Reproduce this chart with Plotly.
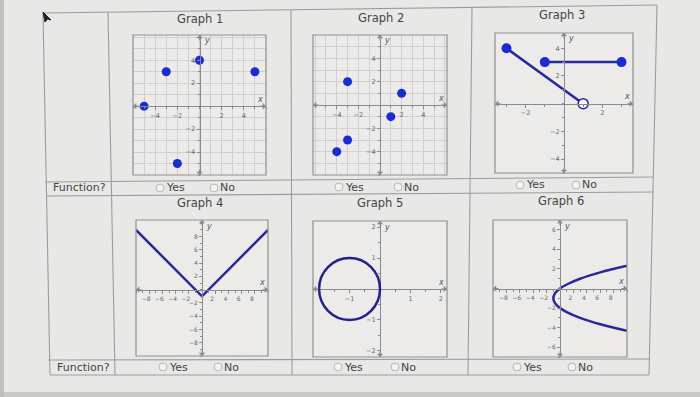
import plotly.graph_objects as go

W, H = 700, 397

# ---------------- data ----------------
g1_x = [-5, -3, 0, 5, -2]
g1_y = [0, 3, 4, 3, -5]

g2_x = [-3, 2, 1, -3, -4]
g2_y = [2, 1, -1, -3, -4]

g3_seg1_x = [-3, 1]
g3_seg1_y = [4, 0]
g3_seg2_x = [-1, 3]
g3_seg2_y = [3, 3]

g4_x = [-10, 0, 10]
g4_y = [9, -1, 9]

g5_center_x = -1
g5_center_y = 0
g5_radius = 1

g6_x = [10, 6, 3, 1, 0, -0.75, -1, -0.75, 0, 1, 3, 6, 10]
g6_y = [2.32, 1.65, 1.0, 0.41, 0, -0.5, -1, -1.5, -2, -2.41, -3, -3.65, -4.32]

titles = ["Graph 1", "Graph 2", "Graph 3", "Graph 4", "Graph 5", "Graph 6"]

x_ticks = [[-4, -2, 2, 4], [-4, -2, 2, 4], [-2, 2],
           [-8, -6, -4, -2, 2, 4, 6, 8], [-1, 1, 2], [-8, -6, -4, -2, 2, 4, 6, 8]]
y_ticks = [[-4, -2, 2, 4], [-4, -2, 2, 4], [-4, -2, 2, 4],
           [-8, -6, -4, -2, 2, 4, 6, 8], [-2, -1, 1, 2], [-6, -4, -2, 2, 4, 6]]

x_ranges = [[-6, 6], [-6.2, 6.2], [-3.6, 3.6], [-10, 10], [-2.2, 2.2], [-10, 10]]
y_ranges = [[-6, 6.2], [-6, 6], [-5, 5.1], [-10, 10.5], [-2.2, 2.2], [-7, 7]]

# ---------------- layout helpers ----------------
def PX(x):
    return x / W

def PY(y):
    return 1 - y / H

# plot boxes in pixels: left, top, right, bottom
boxes = [(133, 35, 266, 175), (313, 35, 447, 175), (495, 33, 633, 173),
         (136, 220, 268, 356), (313, 221, 447, 357), (493, 220, 627, 357)]
has_grid = [True, True, False, False, False, False]
minor_x = [1, 1, 1, 1, 0.5, 1]
minor_y = [1, 1, 1, 1, 0.5, 1]
tick_size = [6.5, 6.5, 6.5, 6, 6.5, 6]
x_label_shift = [0, 0, 0, -3, 0, -3]

MARK = "#1a2bd0"
LINE = "#28289c"
AX = "#8a8a8a"
GRID = "#cfcfcf"
TXT = "#444444"
FONT = "DejaVu Sans"
BG = "#e8e8e6"
PBG = "#ecebe9"

fig = go.Figure()

layout = dict(
    width=W, height=H, margin=dict(l=0, r=0, t=0, b=0),
    paper_bgcolor=BG, plot_bgcolor=PBG, showlegend=False,
    font=dict(family=FONT, color=TXT),
)
annotations = []
shapes = []

for i in range(6):
    n = "" if i == 0 else str(i + 1)
    l, t, r, b = boxes[i]
    xr, yr = x_ranges[i], y_ranges[i]
    yd = [PY(b), PY(t)]
    xd = [PX(l), PX(r)]
    xpos = yd[0] + (0 - yr[0]) / (yr[1] - yr[0]) * (yd[1] - yd[0])
    ypos = xd[0] + (0 - xr[0]) / (xr[1] - xr[0]) * (xd[1] - xd[0])
    layout["xaxis" + n] = dict(
        domain=xd, range=xr, anchor="free", position=xpos,
        tickmode="array", tickvals=x_ticks[i], ticks="outside", ticklen=3,
        tickcolor=AX, tickfont=dict(size=tick_size[i], color="#666"),
        ticklabelshift=x_label_shift[i],
        showline=True, linecolor=AX, linewidth=1, zeroline=False,
        showgrid=has_grid[i], gridcolor=GRID, gridwidth=1,
        minor=dict(dtick=minor_x[i], tick0=0, ticks="outside", ticklen=2,
                   tickcolor=AX, showgrid=has_grid[i], gridcolor=GRID),
        fixedrange=True,
    )
    layout["yaxis" + n] = dict(
        domain=yd, range=yr, anchor="free", position=ypos,
        tickmode="array", tickvals=y_ticks[i], ticks="outside", ticklen=3,
        tickcolor=AX, tickfont=dict(size=tick_size[i], color="#666"),
        showline=True, linecolor=AX, linewidth=1, zeroline=False,
        showgrid=has_grid[i], gridcolor=GRID, gridwidth=1,
        minor=dict(dtick=minor_y[i], tick0=0, ticks="outside", ticklen=2,
                   tickcolor=AX, showgrid=has_grid[i], gridcolor=GRID),
        fixedrange=True,
    )
    xref, yref = "x" + n, "y" + n
    # plot frame
    shapes.append(dict(type="rect", xref=xref + " domain", yref=yref + " domain",
                       x0=0, x1=1, y0=0, y1=1, line=dict(color="#8f8f8f", width=1.2),
                       layer="above"))
    # axis arrows
    for (ax_x, ax_y, dx, dy) in [(xr[1], 0, -7, 0), (xr[0], 0, 7, 0),
                                 (0, yr[1], 0, 7), (0, yr[0], 0, -7)]:
        annotations.append(dict(x=ax_x, y=ax_y, xref=xref, yref=yref, ax=dx, ay=dy,
                                showarrow=True, arrowhead=1, arrowsize=1.1,
                                arrowwidth=1, arrowcolor=AX, text=""))
    annotations.append(dict(x=xr[1], y=0, xref=xref, yref=yref, text="<i>x</i>",
                            showarrow=False, xshift=-6, yshift=7,
                            font=dict(size=8, color="#555")))
    annotations.append(dict(x=0, y=yr[1], xref=xref, yref=yref, text="<i>y</i>",
                            showarrow=False, xshift=7, yshift=-6,
                            font=dict(size=8, color="#555")))

# ---------------- traces ----------------
fig.add_trace(go.Scatter(x=g1_x, y=g1_y, mode="markers", xaxis="x", yaxis="y",
                         marker=dict(size=9, color=MARK)))
fig.add_trace(go.Scatter(x=g2_x, y=g2_y, mode="markers", xaxis="x2", yaxis="y2",
                         marker=dict(size=9, color=MARK)))
fig.add_trace(go.Scatter(x=g3_seg1_x, y=g3_seg1_y, mode="lines", xaxis="x3", yaxis="y3",
                         line=dict(color=LINE, width=2.5)))
fig.add_trace(go.Scatter(x=g3_seg2_x, y=g3_seg2_y, mode="lines+markers", xaxis="x3", yaxis="y3",
                         line=dict(color=LINE, width=2.5), marker=dict(size=10, color=MARK)))
fig.add_trace(go.Scatter(x=g3_seg1_x[:1], y=g3_seg1_y[:1], mode="markers", xaxis="x3", yaxis="y3",
                         marker=dict(size=10, color=MARK)))
fig.add_trace(go.Scatter(x=g3_seg1_x[1:], y=g3_seg1_y[1:], mode="markers", xaxis="x3", yaxis="y3",
                         marker=dict(size=10, color="white", line=dict(color=LINE, width=1.5))))
fig.add_trace(go.Scatter(x=g4_x, y=g4_y, mode="lines", xaxis="x4", yaxis="y4",
                         line=dict(color=LINE, width=2.5)))
fig.add_trace(go.Scatter(x=g6_x, y=g6_y, mode="lines", xaxis="x6", yaxis="y6",
                         line=dict(color=LINE, width=2.5, shape="spline", smoothing=1.0)))
shapes.append(dict(type="circle", xref="x5", yref="y5",
                   x0=g5_center_x - g5_radius, x1=g5_center_x + g5_radius,
                   y0=g5_center_y - g5_radius, y1=g5_center_y + g5_radius,
                   line=dict(color="#22228c", width=2.5)))

# ---------------- table lines (paper coords from pixels) ----------------
BORDER = "#9c9c9c"
table_lines = [
    ((43, 13), (657, 5)),     # top
    ((50, 375), (649, 375)),  # bottom
    ((43, 13), (50, 375)),    # left
    ((657, 5), (649, 375)),   # right
    ((108, 12), (115, 375)),  # label column
    ((291, 10), (292, 375)),
    ((472, 8), (468, 375)),
    ((45, 182), (654, 177)),
    ((46, 196), (654, 192)),
    ((48, 360), (650, 359)),
]
for (p0, p1) in table_lines:
    shapes.append(dict(type="line", xref="paper", yref="paper",
                       x0=PX(p0[0]), y0=PY(p0[1]), x1=PX(p1[0]), y1=PY(p1[1]),
                       line=dict(color=BORDER, width=1.1), layer="below"))

# bottom darker strip and left edge
shapes.append(dict(type="rect", xref="paper", yref="paper", x0=0, x1=1, y0=0, y1=PY(392),
                   fillcolor="#c9c9c7", line=dict(width=0), layer="below"))
shapes.append(dict(type="rect", xref="paper", yref="paper", x0=0, x1=PX(4), y0=0, y1=1,
                   fillcolor="#bfc0be", line=dict(width=0), layer="below"))
# cursor
cx, cy = 43, 12
path = "M {} {} L {} {} L {} {} L {} {} L {} {} Z".format(
    PX(cx), PY(cy), PX(cx + 2), PY(cy + 10), PX(cx + 4.5), PY(cy + 7),
    PX(cx + 8), PY(cy + 8), PX(cx), PY(cy))
shapes.append(dict(type="path", xref="paper", yref="paper", path=path,
                   fillcolor="#222", line=dict(color="#222", width=1)))

# ---------------- text ----------------
title_pos = [(200, 19), (381, 18), (562, 15), (200, 203), (380, 203), (561, 201)]
for txt, (x, y) in zip(titles, title_pos):
    annotations.append(dict(x=PX(x), y=PY(y), xref="paper", yref="paper", text=txt,
                            xanchor="center", yanchor="middle",
                            showarrow=False, font=dict(size=11.5, color=TXT, family=FONT)))

for (x, y) in [(79, 188), (83, 367)]:
    annotations.append(dict(x=PX(x), y=PY(y), xref="paper", yref="paper", text="Function?",
                            xanchor="center", yanchor="middle",
                            showarrow=False, font=dict(size=11, color=TXT, family=FONT)))

radios = [  # (radio x, y, label)
    (160, 188, "Yes"), (214, 188, "No"),
    (339, 187, "Yes"), (398, 187, "No"),
    (520, 185, "Yes"), (576, 185, "No"),
    (163, 367, "Yes"), (218, 367, "No"),
    (338, 367, "Yes"), (395, 367, "No"),
    (517, 367, "Yes"), (572, 367, "No"),
]
for (x, y, lab) in radios:
    shapes.append(dict(type="circle", xref="paper", yref="paper",
                       x0=PX(x - 4), x1=PX(x + 4), y0=PY(y + 4), y1=PY(y - 4),
                       fillcolor="#f2f2f0", line=dict(color="#b8b8b8", width=1)))
    annotations.append(dict(x=PX(x + 4), y=PY(y), xref="paper", yref="paper", text=lab,
                            xanchor="left", yanchor="middle", showarrow=False,
                            font=dict(size=11, color=TXT, family=FONT)))

layout["annotations"] = annotations
layout["shapes"] = shapes
fig.update_layout(**layout)

fig.write_html("out.html", config={"displayModeBar": False},
               post_script="document.body.style.margin='0';document.body.style.padding='0';")
